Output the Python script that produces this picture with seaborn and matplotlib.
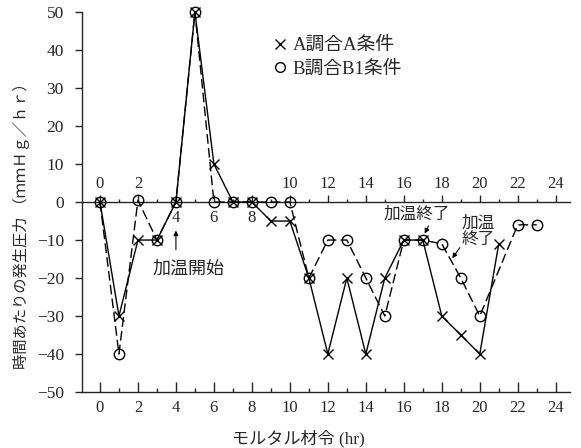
import numpy as np
import pandas as pd
import matplotlib
matplotlib.use("Agg")
import matplotlib.pyplot as plt
from matplotlib.lines import Line2D
from matplotlib.ticker import MultipleLocator
import seaborn as sns

# --- data ---
hours_a = [0, 1, 2, 3, 4, 5, 6, 7, 8, 9, 10, 11, 12, 13, 14, 15, 16, 17, 18, 19, 20, 21]
press_a = [0, -30, -10, -10, 0, 50, 10, 0, 0, -5, -5, -20, -40, -20, -40, -20, -10, -10, -30, -35, -40, -11]

hours_b = [0, 1, 2, 3, 4, 5, 6, 7, 8, 9, 10, 11, 12, 13, 14, 15, 16, 17, 18, 19, 20, 22, 23]
press_b = [0, -40, 0.5, -10, 0, 50, 0, 0, 0, 0, 0, -20, -10, -10, -20, -30, -10, -10, -11, -20, -30, -6, -6]

label_a = "A調合A条件"
label_b = "B調合B1条件"
x_ticks = list(range(0, 25, 2))
y_ticks = list(range(-50, 51, 10))
below_zero_labels = [4, 6, 8]

sns.set_style("ticks")
plt.rcParams["font.family"] = ["Liberation Serif", "Noto Sans CJK JP", "DejaVu Sans"]
plt.rcParams["axes.linewidth"] = 1.0

fig = plt.figure(figsize=(5.81, 4.48), dpi=100)
ax = fig.add_axes([0.141, 0.125, 0.840, 0.848])

sns.lineplot(x=hours_a, y=press_a, ax=ax, color="black", lw=1.0,
             marker="x", markersize=7, markeredgewidth=1.0,
             markeredgecolor="black", sort=False, clip_on=False)
sns.lineplot(x=hours_b, y=press_b, ax=ax, color="black", lw=1.0,
             linestyle=(0, (7, 3)), marker="o", markersize=7.5,
             markerfacecolor="none", markeredgecolor="black",
             markeredgewidth=1.0, sort=False, clip_on=False)

ax.set_xlim(-0.95, 24.75)
ax.set_ylim(-50, 50)
sns.despine(ax=ax)

ax.set_xticks(x_ticks)
ax.xaxis.set_minor_locator(MultipleLocator(1))
ax.tick_params(axis="x", which="major", direction="in", length=7, width=1,
               labelsize=12, pad=6)
ax.tick_params(axis="x", which="minor", direction="in", length=3, width=1)
ax.set_yticks(y_ticks)
ax.tick_params(axis="y", direction="out", length=5, width=1,
               labelsize=12.5, pad=8)

# zero line with its own tick labels
sec = ax.secondary_xaxis(0.5)
sec.set_xticks(x_ticks)
sec.set_xticklabels(["" if t in below_zero_labels else str(t) for t in x_ticks])
sec.xaxis.set_minor_locator(MultipleLocator(1))
sec.tick_params(axis="x", which="major", direction="out", length=5, width=1,
                labelsize=12, pad=2)
sec.tick_params(axis="x", which="minor", direction="out", length=2.5, width=1)
sec.spines["top"].set_linewidth(1.0)
for t in below_zero_labels:
    ax.text(t, -4.3, str(t), ha="center", va="center", fontsize=12)

ax.set_xlabel("モルタル材令 (hr)", fontsize=12.3)
ax.set_ylabel("時間あたりの発生圧力 （ｍｍＨｇ／ｈｒ）", fontsize=11)
ax.xaxis.set_label_coords(0.443, -0.1)
ax.yaxis.set_label_coords(-0.107, 0.448)

# annotations
arrow = dict(arrowstyle="-|>", lw=0.8, color="black", mutation_scale=7,
             shrinkA=0, shrinkB=0)
ax.annotate("", xy=(4, -7.5), xytext=(4, -12.5), arrowprops=arrow)
ax.text(4.65, -17.6, "加温開始", ha="center", va="center", fontsize=13)
ax.annotate("", xy=(17.1, -8.3), xytext=(17.3, -6.3), arrowprops=arrow)
ax.text(16.7, -3.4, "加温終了", ha="center", va="center", fontsize=12)
ax.annotate("", xy=(18.55, -14.8), xytext=(18.95, -12.0), arrowprops=arrow)
ax.text(19.9, -7.9, "加温\n終了", ha="center", va="center", fontsize=12,
        linespacing=1.05)

handles = [
    Line2D([], [], ls="none", marker="x", color="black", markersize=6.5, markeredgewidth=1.0),
    Line2D([], [], ls="none", marker="o", color="black", markerfacecolor="none",
           markersize=7, markeredgewidth=1.0),
]
ax.legend(handles, [label_a, label_b], loc="upper left", bbox_to_anchor=(0.39, 0.935),
          frameon=False, fontsize=13.5, handlelength=0.8, handletextpad=0.3,
          labelspacing=0.35, borderpad=0, borderaxespad=0)

fig.savefig("out.png", dpi=100)
